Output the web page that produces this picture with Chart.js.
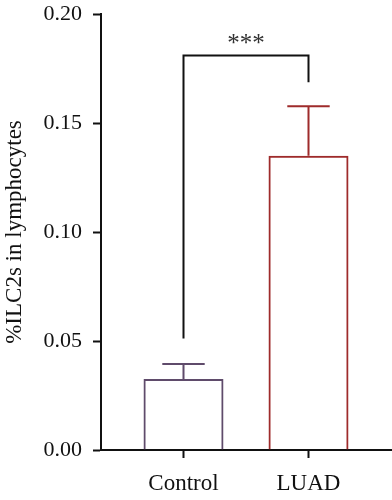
<!DOCTYPE html>
<html>
<head>
<meta charset="utf-8">
<script src="https://cdn.jsdelivr.net/npm/chart.js@4/dist/chart.umd.min.js"></script>
<style>
  html, body { margin: 0; padding: 0; background: #fff; }
</style>
</head>
<body>
<canvas id="chart" width="392" height="500"></canvas>
<script>
// data
const groups = ["Control", "LUAD"];
const groupPos = [1, 2];
const means = [0.0326, 0.135];
const errTops = [0.0394, 0.1577];
const barColors = ["#5f4b6b", "#9e2b2b"];
const yTicks = [0, 0.05, 0.1, 0.15, 0.2];

// significance bracket (data units)
const bracketTop = 0.181;
const bracketLegs = [0.0512, 0.1687];
const bracketText = "***";

const serif = "'Liberation Serif', 'DejaVu Serif', serif";

const errorBars = {
  id: "errorBars",
  afterDatasetsDraw(chart) {
    const ctx = chart.ctx;
    const y = chart.scales.y;
    const bars = chart.getDatasetMeta(0).data;
    ctx.save();
    ctx.lineWidth = 2;
    bars.forEach((bar, i) => {
      const top = y.getPixelForValue(errTops[i]);
      const half = bar.width * 0.265;
      ctx.strokeStyle = barColors[i];
      ctx.beginPath();
      ctx.moveTo(bar.x, bar.y);
      ctx.lineTo(bar.x, top);
      ctx.moveTo(bar.x - half, top);
      ctx.lineTo(bar.x + half, top);
      ctx.stroke();
    });

    // bracket
    const x = chart.scales.x;
    const x1 = x.getPixelForValue(groupPos[0]);
    const x2 = x.getPixelForValue(groupPos[1]);
    const yt = y.getPixelForValue(bracketTop);
    ctx.strokeStyle = "#111";
    ctx.beginPath();
    ctx.moveTo(x1, y.getPixelForValue(bracketLegs[0]));
    ctx.lineTo(x1, yt);
    ctx.lineTo(x2, yt);
    ctx.lineTo(x2, y.getPixelForValue(bracketLegs[1]));
    ctx.stroke();

    ctx.fillStyle = "#333";
    ctx.font = "25px " + serif;
    ctx.textAlign = "center";
    ctx.textBaseline = "alphabetic";
    ctx.fillText(bracketText, (x1 + x2) / 2, yt - 4);
    ctx.restore();
  }
};

new Chart(document.getElementById("chart"), {
  type: "bar",
  data: {
    datasets: [{
      data: groupPos.map((p, i) => ({ x: p, y: means[i] })),
      backgroundColor: "rgba(255,255,255,0)",
      borderColor: barColors,
      borderWidth: 2,
      categoryPercentage: 0.8,
      barPercentage: 0.8
    }]
  },
  options: {
    responsive: false,
    animation: false,
    layout: { padding: { top: 14, left: 0, right: 0, bottom: 0 } },
    plugins: {
      legend: { display: false },
      tooltip: { enabled: false }
    },
    scales: {
      x: {
        type: "linear",
        min: 0.34,
        max: 2.668,
        offset: false,
        afterBuildTicks: (s) => { s.ticks = groupPos.map(v => ({ value: v })); },
        afterFit: (s) => { s.height = 50; s.paddingLeft = 0; s.paddingRight = 0; },
        ticks: {
          color: "#111",
          padding: 12,
          font: { family: serif, size: 23 },
          callback: (v) => groups[groupPos.indexOf(v)]
        },
        grid: {
          offset: false,
          drawOnChartArea: false,
          tickLength: 8,
          tickWidth: 2,
          color: "#111"
        },
        border: { display: true, color: "#111", width: 2 }
      },
      y: {
        min: 0,
        max: 0.2,
        afterBuildTicks: (s) => { s.ticks = yTicks.map(v => ({ value: v })); },
        afterFit: (s) => { s.width = 101; s.paddingTop = 0; s.paddingBottom = 0; },
        ticks: {
          color: "#111",
          padding: 11,
          font: { family: serif, size: 22 },
          callback: (v) => v.toFixed(2)
        },
        grid: {
          drawOnChartArea: false,
          tickLength: 8,
          tickWidth: 2,
          color: "#111"
        },
        border: { display: true, color: "#111", width: 2 },
        title: {
          display: true,
          text: "%ILC2s in lymphocytes",
          color: "#111",
          font: { family: serif, size: 23 },
          padding: { top: 1, bottom: 0 }
        }
      }
    }
  },
  plugins: [errorBars]
});
</script>
</body>
</html>
